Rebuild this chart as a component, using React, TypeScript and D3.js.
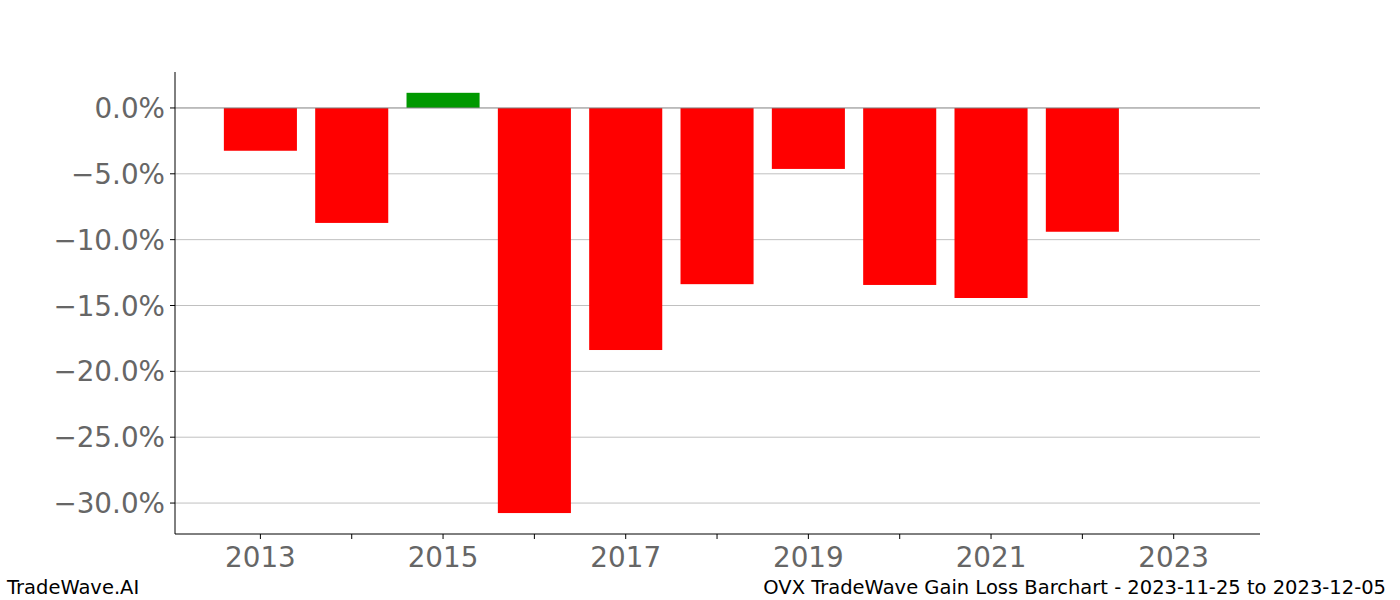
import React from "react";
import * as d3 from "d3";

const years = [2013, 2014, 2015, 2016, 2017, 2018, 2019, 2020, 2021, 2022];
const gains = [-3.25, -8.73, 1.15, -30.76, -18.38, -13.38, -4.63, -13.44, -14.43, -9.4];
const yTicks = [0, -5, -10, -15, -20, -25, -30];
const xLabelYears = [2013, 2015, 2017, 2019, 2021, 2023];
const xMinorYears = [2014, 2016, 2018, 2020, 2022];
const footerLeft = "TradeWave.AI";
const footerRight = "OVX TradeWave Gain Loss Barchart - 2023-11-25 to 2023-12-05";

export default function App() {
  const W = 1400, H = 600;
  const left = 175, right = 1260, top = 72, bottom = 534;
  const x = d3.scaleLinear().domain([2012.065, 2023.945]).range([left, right]);
  const y = d3.scaleLinear().domain([2.73, -32.35]).range([top, bottom]);
  const barW = x(2013.4) - x(2012.6);
  const font = "DejaVu Sans, sans-serif";
  return (
    <svg width={W} height={H} style={{ position: "absolute", left: 0, top: 0, background: "#fff" }}>
      {yTicks.filter(t => t !== 0).map(t => (
        <line key={"g" + t} x1={left} x2={right} y1={y(t)} y2={y(t)} stroke="#c0c0c0" strokeWidth={1} />
      ))}
      {years.map((yr, i) => {
        const v = gains[i];
        const y0 = y(Math.max(0, v));
        const y1 = y(Math.min(0, v));
        return (
          <rect key={yr} x={x(yr) - barW / 2} y={y0} width={barW} height={y1 - y0}
            fill={v >= 0 ? "#009900" : "#ff0000"} />
        );
      })}
      <line x1={left} x2={right} y1={y(0)} y2={y(0)} stroke="#808080" strokeWidth={1} />
      <line x1={left} x2={left} y1={top} y2={bottom} stroke="#000" strokeWidth={1} />
      <line x1={left} x2={right} y1={bottom} y2={bottom} stroke="#000" strokeWidth={1} />
      {yTicks.map(t => (
        <g key={"y" + t}>
          <line x1={left - 5} x2={left} y1={y(t)} y2={y(t)} stroke="#000" />
          <text x={left - 10} y={y(t)} dy="0.36em" textAnchor="end" fontFamily={font} fontSize={27.8} fill="#666">
            {(t < 0 ? "\u2212" : "") + Math.abs(t).toFixed(1) + "%"}
          </text>
        </g>
      ))}
      {xLabelYears.concat(xMinorYears).map(yr => (
        <line key={"xt" + yr} x1={x(yr)} x2={x(yr)} y1={bottom} y2={bottom + 5} stroke="#000" />
      ))}
      {xLabelYears.map(yr => (
        <text key={"xl" + yr} x={x(yr)} y={bottom + 33} textAnchor="middle" fontFamily={font} fontSize={27.8} fill="#666">
          {yr}
        </text>
      ))}
      <text x={7} y={594} fontFamily={font} fontSize={19.5} fill="#000">{footerLeft}</text>
      <text x={1386} y={594} textAnchor="end" fontFamily={font} fontSize={19.5} fill="#000">{footerRight}</text>
    </svg>
  );
}
